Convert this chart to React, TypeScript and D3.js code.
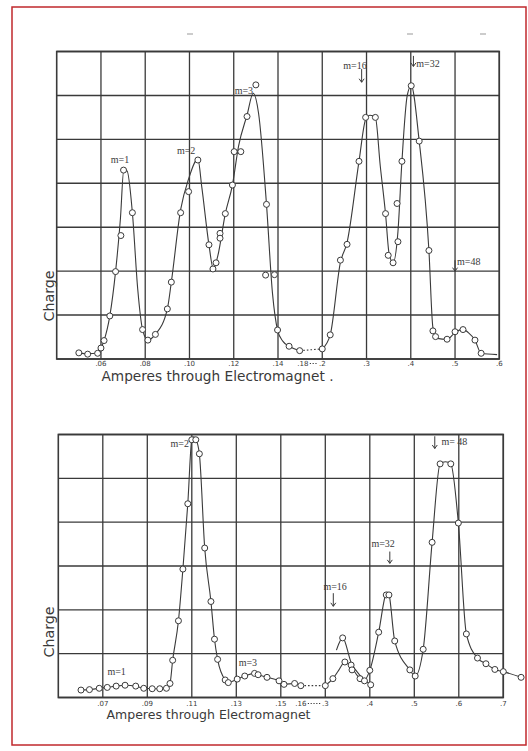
import React from "react";
import * as d3 from "d3";

const W = 528;
const H = 751;

// ---------- Top chart (first spectrum) ----------
const topTickValues = [0.06, 0.08, 0.1, 0.12, 0.14, 0.18, 0.2, 0.3, 0.4, 0.5, 0.6];
const topTickLabels = [".06", ".08", ".10", ".12", ".14", ".18", ".2", ".3", ".4", ".5", ".6"];
const topGridValues = [0.06, 0.08, 0.1, 0.12, 0.14, 0.2, 0.3, 0.4, 0.5, 0.6];
const topAxisStart = 0.04;
const topChargeMax = 7;

const topPoints: [number, number][] = [
  [0.05, 0.14], [0.054, 0.11], [0.0585, 0.13], [0.06, 0.25], [0.0614, 0.42], [0.064, 0.98],
  [0.0666, 1.99], [0.069, 2.81], [0.0702, 4.3], [0.0742, 3.33], [0.0788, 0.67], [0.0812, 0.43],
  [0.0846, 0.56], [0.09, 1.14], [0.0918, 1.75], [0.096, 3.33], [0.0996, 3.81], [0.1038, 4.53],
  [0.1088, 2.6], [0.1106, 2.05], [0.112, 2.19], [0.1138, 2.86], [0.1138, 2.75], [0.1162, 3.31],
  [0.1194, 3.96], [0.1202, 4.72], [0.1232, 4.72], [0.126, 5.52], [0.13, 6.24], [0.1348, 3.52],
  [0.1344, 1.91], [0.1384, 1.92], [0.1398, 0.66], [0.1579, 0.29], [0.175, 0.19],
  [0.2, 0.23], [0.218, 0.55], [0.241, 2.25], [0.256, 2.61], [0.283, 4.5], [0.298, 5.5],
  [0.32, 5.5], [0.343, 3.31], [0.349, 2.36], [0.36, 2.19], [0.371, 2.67], [0.369, 3.54],
  [0.38, 4.5], [0.401, 6.22], [0.419, 4.96], [0.441, 2.47], [0.45, 0.64], [0.456, 0.51],
  [0.482, 0.45], [0.5, 0.62], [0.518, 0.67], [0.545, 0.43], [0.559, 0.13],
];

const topCurveA: [number, number][] = [
  [0.05, 0.14], [0.054, 0.12], [0.0585, 0.13], [0.06, 0.25], [0.0614, 0.42], [0.064, 0.98],
  [0.0666, 1.99], [0.0688, 3.2], [0.0703, 4.3], [0.0718, 4.28], [0.0742, 3.33], [0.0766, 1.6],
  [0.0788, 0.67], [0.0812, 0.43], [0.0846, 0.56], [0.09, 1.14], [0.0918, 1.75], [0.096, 3.4],
  [0.0996, 4.1], [0.1038, 4.55], [0.1056, 3.9], [0.1088, 2.6], [0.1108, 2.05], [0.1128, 2.35],
  [0.1162, 3.31], [0.1194, 3.96], [0.1222, 4.85], [0.126, 5.55], [0.1288, 6.05], [0.1312, 5.6],
  [0.1348, 3.52], [0.1375, 1.5], [0.1398, 0.66], [0.148, 0.4], [0.1579, 0.29], [0.175, 0.19],
];
const topCurveGap: [number, number][] = [[0.175, 0.19], [0.2, 0.23]];
const topCurveB: [number, number][] = [
  [0.2, 0.23], [0.218, 0.55], [0.241, 2.2], [0.256, 2.65], [0.283, 4.5], [0.298, 5.45],
  [0.308, 5.55], [0.32, 5.5], [0.331, 4.4], [0.343, 3.3], [0.351, 2.4], [0.36, 2.19],
  [0.371, 2.9], [0.38, 4.5], [0.392, 6.0], [0.401, 6.22], [0.419, 4.96], [0.441, 2.47],
  [0.45, 0.72], [0.46, 0.47], [0.482, 0.45], [0.5, 0.6], [0.518, 0.68], [0.53, 0.6],
  [0.545, 0.43], [0.559, 0.13], [0.595, 0.1],
];

const topLabels = [
  { text: "m=1", a: 0.0686, c: 4.55 },
  { text: "m=2", a: 0.0985, c: 4.75 },
  { text: "m=3", a: 0.1246, c: 6.12 },
  { text: "m=16", a: 0.274, c: 6.68 },
  { text: "m=32", a: 0.439, c: 6.72 },
  { text: "m=48", a: 0.531, c: 2.22 },
];
const topArrows = [
  { a: 0.289, c0: 6.6, c1: 6.3 },
  { a: 0.406, c0: 6.9, c1: 6.66 },
  { a: 0.5, c0: 2.25, c1: 2.0 },
];

// ---------- Bottom chart (second spectrum) ----------
const botTickValues = [0.07, 0.09, 0.11, 0.13, 0.15, 0.16, 0.3, 0.4, 0.5, 0.6, 0.7];
const botTickLabels = [".07", ".09", ".11", ".13", ".15", ".16", ".3", ".4", ".5", ".6", ".7"];
const botGridValues = [0.07, 0.09, 0.11, 0.13, 0.15, 0.3, 0.4, 0.5, 0.6, 0.7];
const botAxisStart = 0.05;
const botChargeMax = 6;

const botPoints: [number, number][] = [
  [0.0602, 0.17], [0.064, 0.18], [0.0684, 0.21], [0.072, 0.23], [0.076, 0.26], [0.08, 0.28],
  [0.0848, 0.26], [0.0884, 0.21], [0.0922, 0.2], [0.0956, 0.2], [0.0986, 0.21], [0.1002, 0.32],
  [0.1014, 0.85], [0.104, 1.75], [0.106, 2.93], [0.1082, 4.42], [0.11, 5.88], [0.1118, 5.88],
  [0.1134, 5.56], [0.1158, 3.41], [0.1186, 2.19], [0.1202, 1.33], [0.1216, 0.87], [0.125, 0.4],
  [0.1264, 0.34], [0.1304, 0.42], [0.1338, 0.49], [0.1382, 0.55], [0.1398, 0.52], [0.1438, 0.46],
  [0.1492, 0.38], [0.1516, 0.3], [0.1569, 0.32], [0.16, 0.27],
  [0.3, 0.27], [0.317, 0.43], [0.339, 1.36], [0.344, 0.81], [0.358, 0.74], [0.36, 0.63],
  [0.378, 0.43], [0.388, 0.38], [0.4, 0.62], [0.402, 0.29], [0.42, 1.49], [0.437, 2.34],
  [0.443, 2.34], [0.456, 1.29], [0.49, 0.63], [0.502, 0.49], [0.52, 1.1], [0.54, 3.54],
  [0.558, 5.33], [0.582, 5.33], [0.599, 3.98], [0.617, 1.45], [0.642, 0.9], [0.661, 0.77],
  [0.681, 0.64], [0.7, 0.59], [0.74, 0.46],
];

const botCurveA: [number, number][] = [
  [0.0602, 0.17], [0.064, 0.18], [0.0684, 0.21], [0.072, 0.23], [0.076, 0.26], [0.08, 0.28],
  [0.0848, 0.26], [0.0884, 0.21], [0.0922, 0.2], [0.0956, 0.2], [0.0986, 0.21], [0.1002, 0.32],
  [0.1014, 0.85], [0.104, 1.75], [0.106, 2.93], [0.1082, 4.42], [0.11, 5.88], [0.1109, 5.95],
  [0.1118, 5.9], [0.1134, 5.56], [0.1158, 3.41], [0.1186, 2.19], [0.1202, 1.33], [0.1216, 0.87],
  [0.125, 0.4], [0.1264, 0.34], [0.1304, 0.42], [0.1338, 0.49], [0.1382, 0.55], [0.1398, 0.52],
  [0.1438, 0.46], [0.1492, 0.38], [0.1516, 0.3], [0.1569, 0.32], [0.16, 0.27],
];
const botCurveGap: [number, number][] = [[0.16, 0.27], [0.3, 0.27]];
const botCurveB: [number, number][] = [
  [0.3, 0.27], [0.317, 0.43], [0.33, 0.62], [0.344, 0.81], [0.358, 0.7], [0.372, 0.5],
  [0.386, 0.38], [0.4, 0.62], [0.42, 1.49], [0.437, 2.38], [0.44, 2.4], [0.443, 2.36],
  [0.456, 1.29], [0.49, 0.63], [0.502, 0.49], [0.52, 1.1], [0.54, 3.54], [0.558, 5.33],
  [0.57, 5.38], [0.582, 5.33], [0.599, 3.98], [0.617, 1.45], [0.642, 0.9], [0.661, 0.77],
  [0.681, 0.64], [0.7, 0.59], [0.74, 0.46],
];
const botCurveC: [number, number][] = [
  [0.325, 1.08], [0.339, 1.36], [0.358, 0.8], [0.38, 0.48], [0.402, 0.29],
];

const botLabels = [
  { text: "m=1", a: 0.0762, c: 0.6 },
  { text: "m=2", a: 0.1046, c: 5.8 },
  { text: "m=3", a: 0.1352, c: 0.8 },
  { text: "m=16", a: 0.322, c: 2.53 },
  { text: "m=32", a: 0.43, c: 3.51 },
  { text: "m= 48", a: 0.59, c: 5.84 },
];
const botArrows = [
  { a: 0.318, c0: 2.38, c1: 2.08 },
  { a: 0.445, c0: 3.33, c1: 3.06 },
  { a: 0.546, c0: 5.96, c1: 5.68 },
];

const INK = "#3a3a3a";

type Pt = [number, number];

function Panel(props: {
  left: number; right: number; top: number; bottom: number;
  axisStart: number; tickValues: number[]; tickLabels: string[]; tickSlots: number[];
  gridValues: number[]; chargeMax: number;
  points: Pt[]; solid: Pt[][]; dotted: Pt[];
  labels: { text: string; a: number; c: number }[];
  arrows: { a: number; c0: number; c1: number }[];
  breakIndex: number;
  tickBaseline: number;
}) {
  const p = props;
  const colW = (p.right - p.left) / 10;
  const x = d3
    .scaleLinear()
    .domain([p.axisStart, ...p.tickValues])
    .range([p.left, ...p.tickSlots.map((s) => p.left + s * colW)]);
  const y = d3.scaleLinear().domain([0, p.chargeMax]).range([p.bottom, p.top]);
  const line = d3
    .line<Pt>()
    .x((d) => x(d[0]))
    .y((d) => y(d[1]))
    .curve(d3.curveMonotoneX);
  const lin = d3.line<Pt>().x((d) => x(d[0])).y((d) => y(d[1]));
  const hTicks = d3.range(0, p.chargeMax + 1);
  const xBreakA = x(p.tickValues[p.breakIndex]);
  const xBreakB = x(p.tickValues[p.breakIndex + 1]);
  return (
    <g>
      {hTicks.map((t) => (
        <line key={"h" + t} x1={p.left} x2={p.right} y1={y(t)} y2={y(t)} stroke={INK} strokeWidth={1.4} />
      ))}
      {p.gridValues.map((v) => (
        <line key={"v" + v} x1={x(v)} x2={x(v)} y1={p.top} y2={p.bottom} stroke={INK} strokeWidth={1.3} />
      ))}
      <rect x={p.left} y={p.top} width={p.right - p.left} height={p.bottom - p.top} fill="none" stroke={INK} strokeWidth={1.6} />
      {p.solid.map((seg, i) => (
        <path key={"s" + i} d={line(seg) || ""} fill="none" stroke={INK} strokeWidth={1.1} />
      ))}
      <path d={lin(p.dotted) || ""} fill="none" stroke={INK} strokeWidth={1.1} strokeDasharray="1.6,2" />
      {p.points.map((d, i) => (
        <circle key={"c" + i} cx={x(d[0])} cy={y(d[1])} r={3} fill="white" stroke={INK} strokeWidth={1} />
      ))}
      {p.tickValues.map((v, i) => (
        <text key={"t" + i} x={x(v)} y={p.tickBaseline} fontSize={7} fontFamily="DejaVu Sans" textAnchor="middle" fill={INK}>
          {p.tickLabels[i]}
        </text>
      ))}
      <line x1={xBreakA + 7} x2={xBreakB - 5} y1={p.tickBaseline - 2} y2={p.tickBaseline - 2} stroke={INK} strokeWidth={1} strokeDasharray="1.2,1.6" />
      {p.labels.map((l, i) => (
        <text key={"l" + i} x={x(l.a)} y={y(l.c) + 3.5} fontSize={10} fontFamily="Liberation Serif" textAnchor="middle" fill={INK}>
          {l.text}
        </text>
      ))}
      {p.arrows.map((ar, i) => {
        const ax = x(ar.a);
        const y0 = y(ar.c0);
        const y1 = y(ar.c1);
        return (
          <g key={"a" + i} stroke={INK} strokeWidth={1} fill="none">
            <line x1={ax} x2={ax} y1={y0} y2={y1} />
            <path d={`M${ax - 2.5},${y1 - 3.5}L${ax},${y1}L${ax + 2.5},${y1 - 3.5}`} />
          </g>
        );
      })}
    </g>
  );
}

export default function App() {
  return (
    <svg width={W} height={H} style={{ position: "absolute", left: 0, top: 0, background: "white" }}>
      <rect x={0} y={0} width={W} height={H} fill="white" />
      <rect x={12} y={7} width={514} height={738} fill="none" stroke="#c0282d" strokeWidth={1.5} />
      <g stroke="#999" strokeWidth={1}>
        <line x1={187} x2={193} y1={34} y2={34} />
        <line x1={407} x2={413} y1={34} y2={34} />
        <line x1={480} x2={486} y1={34} y2={34} />
      </g>
      <Panel
        left={56.7} right={499.3} top={51.5} bottom={359}
        axisStart={topAxisStart} tickValues={topTickValues} tickLabels={topTickLabels}
        tickSlots={[1, 2, 3, 4, 5, 5.56, 6, 7, 8, 9, 10]}
        gridValues={topGridValues} chargeMax={topChargeMax}
        points={topPoints} solid={[topCurveA, topCurveB]} dotted={topCurveGap}
        labels={topLabels} arrows={topArrows} breakIndex={5} tickBaseline={365.5}
      />
      <Panel
        left={58.3} right={503.3} top={434.5} bottom={697.5}
        axisStart={botAxisStart} tickValues={botTickValues} tickLabels={botTickLabels}
        tickSlots={[1, 2, 3, 4, 5, 5.45, 6, 7, 8, 9, 10]}
        gridValues={botGridValues} chargeMax={botChargeMax}
        points={botPoints} solid={[botCurveA, botCurveB, botCurveC]} dotted={botCurveGap}
        labels={botLabels} arrows={botArrows} breakIndex={5} tickBaseline={705.5}
      />
      <text x={101.5} y={381} fontSize={14} fontFamily="DejaVu Sans" fill={INK} textLength={232} lengthAdjust="spacingAndGlyphs">
        Amperes through Electromagnet .
      </text>
      <text x={106.5} y={718.5} fontSize={13} fontFamily="DejaVu Sans" fill={INK} textLength={204} lengthAdjust="spacingAndGlyphs">
        Amperes through Electromagnet
      </text>
      <text transform="translate(54,296) rotate(-90)" fontSize={14} fontFamily="DejaVu Sans" fill={INK} textAnchor="middle" textLength={51} lengthAdjust="spacingAndGlyphs">
        Charge
      </text>
      <text transform="translate(54,632) rotate(-90)" fontSize={14} fontFamily="DejaVu Sans" fill={INK} textAnchor="middle" textLength={51} lengthAdjust="spacingAndGlyphs">
        Charge
      </text>
    </svg>
  );
}
